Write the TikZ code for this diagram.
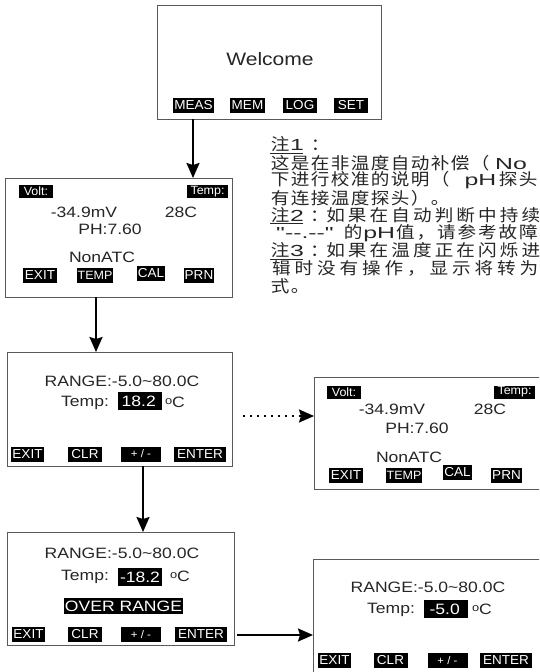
\documentclass[tikz,border=0pt]{standalone}
\usepackage{fontspec}
\usetikzlibrary{arrows.meta}
\newfontfamily\lcd{Liberation Sans}[FakeStretch=1.17]
\newfontfamily\lcdb{Liberation Sans}[FakeStretch=1.04]
\newfontfamily\cjk{Noto Sans CJK SC}[FakeStretch=1.12]
\newfontfamily\nlat{Liberation Sans}[FakeStretch=1.55]
\newcommand\fsz[1]{\fontsize{#1}{#1}\selectfont}
\newcommand\lt[1]{{\nlat\fsz{16}#1}}
\newlength\cjw \setlength\cjw{20pt}
\def\cjend{\cjend}
\newcommand\cj[1]{\cjaux#1\cjend}
\def\cjaux#1{\ifx#1\cjend\else\makebox[\cjw][c]{#1}\expandafter\cjaux\fi}
\tikzset{
  scr/.style={draw=black!65, line width=1.2pt, inner sep=0pt, anchor=north west},
  txt/.style={font=\lcd\fsz{15}, inner sep=0pt, text=black!85},
  btn/.style={fill=black, text=white, font=\lcdb\fsz{13}, inner xsep=1pt, inner ysep=0pt, minimum height=15pt},
  hl/.style={fill=black, text=white, font=\lcd\fsz{15}, inner xsep=1pt, inner ysep=0pt, minimum height=18pt},
  note/.style={font=\cjk\fsz{16.6}, anchor=west, inner sep=0pt, text=black!85},
  arr/.style={line width=2pt, -{Stealth[length=15pt,width=13pt,inset=2pt]}},
  darr/.style={line width=2pt, dash pattern=on 1.6pt off 5.4pt, -{Stealth[length=15pt,width=13pt,inset=2pt]}}
}
\begin{document}
\begin{tikzpicture}[x=1pt,y=-1pt]
\useasboundingbox (0,0) rectangle (539,672);
\clip (0,0) rectangle (539,672);
\fill[white] (0,0) rectangle (539,672);

% Box 1: Welcome
\node[scr, minimum width=224pt, minimum height=114pt] (b1) at (157,5) {};
\node[txt, font=\lcd\fsz{18}] (w) at (270,59) {Welcome};
\node[btn, minimum width=41pt] (b1a) at (193.5,105.5) {MEAS};
\node[btn, minimum width=35pt] (b1b) at (247.5,105.5) {MEM};
\node[btn, minimum width=34pt] (b1c) at (300,105.5) {LOG};
\node[btn, minimum width=34pt] (b1d) at (351,105.5) {SET};

% Box 2
\node[scr, minimum width=227pt, minimum height=119pt] (b2) at (5,178) {};
\node[btn, font=\lcdb\fsz{12}, minimum width=34pt, minimum height=13pt] (b2v) at (36,191.5) {Volt:};
\node[btn, font=\lcdb\fsz{12}, minimum width=41pt, minimum height=13pt] (b2t) at (207.5,191.5) {Temp:};
\node[txt] (b2mv) at (84,212) {-34.9mV};
\node[txt] (b2c) at (181,212) {28C};
\node[txt] (b2ph) at (110,229) {PH:7.60};
\node[txt] (b2n) at (102,257) {NonATC};
\node[btn, minimum width=34pt] (b2e) at (40,275) {EXIT};
\node[btn, font=\lcdb\fsz{12}, minimum width=36pt] (b2tp) at (95,275) {TEMP};
\node[btn, minimum width=28pt] (b2cl) at (151,273.5) {CAL};
\node[btn, minimum width=28pt] (b2p) at (199,275) {PRN};

% Box 3
\node[scr, minimum width=225pt, minimum height=114pt] (b3) at (7,352) {};
\node[txt] (b3r) at (122,381) {RANGE:-5.0\char`\~80.0C};
\node[txt] (b3t) at (85,403) {Temp:};
\node[hl, minimum width=44pt] (b3v) at (140,401) {18.2\,};
\node[txt] (b3c) at (175,402) {\raisebox{3pt}{\fsz{11}o}C};
\node[btn, minimum width=33pt] (b3e) at (27.5,454) {EXIT};
\node[btn, minimum width=34pt] (b3cl) at (85,454) {CLR};
\node[btn, font=\lcdb\fsz{11}, minimum width=40pt] (b3pm) at (141,454) {+ / -};
\node[btn, minimum width=52pt] (b3en) at (200,454) {ENTER};

% Box 4
\node[scr, minimum width=227pt, minimum height=113pt] (b4) at (7,532) {};
\node[txt] (b4r) at (122,553) {RANGE:-5.0\char`\~80.0C};
\node[txt] (b4t) at (85,577) {Temp:};
\node[hl, minimum width=44pt] (b4v) at (140,577) {-18.2};
\node[txt] (b4c) at (180,576) {\raisebox{3pt}{\fsz{11}o}C};
\node[hl, minimum width=117pt, minimum height=16pt] (b4o) at (123.5,606) {OVER RANGE};
\node[btn, minimum width=33pt] (b4e) at (28.5,634.5) {EXIT};
\node[btn, minimum width=34pt] (b4cl) at (85,634.5) {CLR};
\node[btn, font=\lcdb\fsz{11}, minimum width=40pt] (b4pm) at (141,634.5) {+ / -};
\node[btn, minimum width=52pt] (b4en) at (201,634.5) {ENTER};

% Box 5
\node[scr, minimum width=250pt, minimum height=112pt] (b5) at (314,377) {};
\node[btn, font=\lcdb\fsz{12}, minimum width=34pt, minimum height=13pt] (b5v) at (344,392) {Volt:};
\node[btn, font=\lcdb\fsz{12}, minimum width=41pt, minimum height=13pt] (b5t) at (514.5,392) {Temp:};
\node[txt] (b5mv) at (392,409) {-34.9mV};
\node[txt] (b5c) at (490,409) {28C};
\node[txt] (b5ph) at (417,428) {PH:7.60};
\node[txt] (b5n) at (409,457) {NonATC};
\node[btn, minimum width=34pt] (b5e) at (346,475.5) {EXIT};
\node[btn, font=\lcdb\fsz{12}, minimum width=36pt] (b5tp) at (404,475.5) {TEMP};
\node[btn, minimum width=28pt] (b5cl) at (457.5,472.5) {CAL};
\node[btn, minimum width=28pt] (b5p) at (506.5,475.5) {PRN};

% Box 6
\node[scr, minimum width=250pt, minimum height=140pt] (b6) at (313,559) {};
\node[txt] (b6r) at (428,587) {RANGE:-5.0\char`\~80.0C};
\node[txt] (b6t) at (391,610) {Temp:};
\node[hl, minimum width=44pt] (b6v) at (446,609) {-5.0\,};
\node[txt] (b6c) at (482,609) {\raisebox{3pt}{\fsz{11}o}C};
\node[btn, minimum width=33pt] (b6e) at (334.5,660.5) {EXIT};
\node[btn, minimum width=34pt] (b6cl) at (390.5,660.5) {CLR};
\node[btn, font=\lcdb\fsz{11}, minimum width=40pt] (b6pm) at (447.5,660.5) {+ / -};
\node[btn, minimum width=52pt] (b6en) at (506,660.5) {ENTER};

% Notes
\node[note] (n1) at (270,145) {\underline{\cj{注}\makebox[13pt][l]{\lt{1}}}\hspace{7pt}\cj{：}};
\node[note] (n2) at (270,162.7) {\cj{这是在非温度自动补偿（}\hspace{5pt}\lt{No}};
\node[note] (n3) at (270,180.3) {\cj{下进行校准的说明（}\makebox[48pt][r]{\lt{pH}\hspace{2pt}}\cj{探头}};
\node[note] (n4) at (270,198) {\cj{有连接温度探头）。}};
\node[note] (n5) at (270,215.7) {\underline{\cj{注}\makebox[13pt][l]{\lt{2}}}\hspace{7pt}\makebox[14.5pt][l]{：}\setlength\cjw{21.7pt}\cj{如果在自动判断中持续}};
\node[note] (n6) at (276,233.3) {\makebox[67pt][l]{\lt{"{-}{-}.{-}{-}"}}\cj{的}\makebox[32pt][c]{\lt{pH}}\setlength\cjw{20.5pt}\cj{值，请参考故障}};
\node[note] (n7) at (270,251) {\underline{\cj{注}\makebox[13pt][l]{\lt{3}}}\hspace{7pt}\makebox[14.5pt][l]{：}\setlength\cjw{21.7pt}\cj{如果在温度正在闪烁进}};
\node[note] (n8) at (270,268.7) {\setlength\cjw{22.5pt}\cj{辑时没有操作，显示将转为}};
\node[note] (n9) at (270,286.3) {\cj{式。}};

% Connectors
\coordinate (a1) at (193,119);
\draw[arr] (a1) -- (a1 |- b2.north);
\coordinate (a2) at (96,297);
\draw[arr] (a2) -- (a2 |- b3.north);
\coordinate (a3) at (143,466);
\draw[arr] (a3) -- (a3 |- b4.north);
\coordinate (a4) at (237,635);
\draw[arr] (a4) -- (a4 -| b6.west);
\coordinate (a5) at (243,416);
\draw[darr] (a5) -- (a5 -| b5.west);
\end{tikzpicture}
\end{document}
